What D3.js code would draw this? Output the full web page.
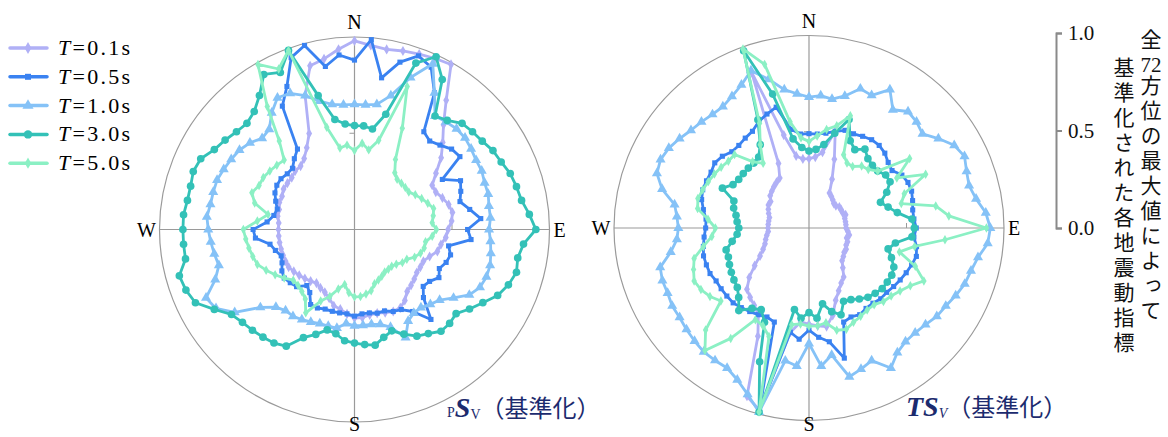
<!DOCTYPE html>
<html lang="ja">
<head>
<meta charset="UTF-8">
<title>pSv / TSv polar</title>
<script src="https://d3js.org/d3.v7.min.js"></script>
<style>
  body { margin: 0; background: #fff; position: relative; }
  .note {
    position: absolute;
    writing-mode: vertical-rl;
    font-family: 'Noto Sans CJK JP', sans-serif;
    font-size: 21px;
    line-height: 21px;
    letter-spacing: 4px;
    color: #111;
    white-space: nowrap;
  }
  .note .tcy { text-combine-upright: all; font-family: 'Liberation Serif', serif; }
</style>
</head>
<body>
<script>
// directions (deg, clockwise from N)
var angles = [0,5,10,15,20,25,30,35,40,45,50,55,
              60,65,70,75,80,85,90,95,100,105,110,115,
              120,125,130,135,140,145,150,155,160,165,170,175,
              180,185,190,195,200,205,210,215,220,225,230,235,
              240,245,250,255,260,265,270,275,280,285,290,295,
              300,305,310,315,320,325,330,335,340,345,350,355];

var periods = ["0.1", "0.5", "1.0", "3.0", "5.0"];
var radialTicks = [0, 0.5, 1.0];
var compass = ["N", "E", "S", "W"];
var noteRight = ["全", "72", "方位の最大値によって"];
var noteLeft = ["基準化された各地震動指標"];

// pSv (normalized)
var psv01 = [0.98,0.96,0.95,0.96,0.97,0.98,0.99,0.82,0.71,0.64,0.58,0.51,
             0.46,0.46,0.48,0.50,0.51,0.50,0.48,0.47,0.45,0.44,0.41,0.39,
             0.39,0.39,0.40,0.41,0.42,0.45,0.47,0.47,0.46,0.45,0.45,0.46,
             0.46,0.44,0.42,0.41,0.38,0.36,0.35,0.34,0.35,0.36,0.37,0.38,
             0.39,0.39,0.39,0.39,0.39,0.39,0.39,0.39,0.40,0.40,0.41,0.41,
             0.42,0.42,0.42,0.43,0.43,0.45,0.49,0.55,0.74,0.88,0.90,0.94];
var psv05 = [0.88,0.99,0.80,0.90,0.96,0.93,0.82,0.62,0.60,0.62,0.65,0.66,
             0.52,0.60,0.58,0.56,0.60,0.65,0.58,0.60,0.49,0.51,0.50,0.48,
             0.50,0.47,0.46,0.50,0.61,0.52,0.48,0.47,0.45,0.45,0.44,0.44,
             0.45,0.44,0.44,0.44,0.44,0.45,0.45,0.40,0.38,0.42,0.43,0.44,
             0.43,0.41,0.40,0.42,0.44,0.51,0.52,0.45,0.42,0.41,0.43,0.45,
             0.46,0.46,0.45,0.45,0.48,0.51,0.74,0.82,0.95,0.99,0.86,0.91];
var psv10 = [0.65,0.65,0.66,0.72,0.84,0.95,0.82,0.72,0.73,0.74,0.74,0.73,
             0.72,0.72,0.71,0.71,0.70,0.70,0.69,0.70,0.71,0.72,0.72,0.71,
             0.68,0.62,0.57,0.55,0.53,0.53,0.55,0.62,0.54,0.51,0.50,0.50,
             0.50,0.49,0.52,0.52,0.52,0.53,0.54,0.55,0.55,0.57,0.63,0.75,
             0.82,0.84,0.76,0.72,0.73,0.74,0.75,0.76,0.75,0.75,0.75,0.74,
             0.73,0.72,0.70,0.67,0.68,0.74,0.79,0.78,0.74,0.69,0.66,0.65];
var psv30 = [0.54,0.54,0.53,0.62,0.92,0.99,0.90,0.72,0.74,0.78,0.79,0.80,
             0.82,0.83,0.85,0.86,0.87,0.90,0.93,0.87,0.85,0.86,0.84,0.81,
             0.76,0.72,0.68,0.69,0.69,0.66,0.64,0.60,0.56,0.58,0.61,0.60,
             0.59,0.58,0.55,0.54,0.58,0.62,0.70,0.72,0.73,0.74,0.75,0.77,
             0.83,0.90,0.92,0.93,0.88,0.88,0.88,0.88,0.87,0.87,0.88,0.87,
             0.83,0.81,0.79,0.78,0.80,0.85,0.93,0.90,0.99,0.72,0.58,0.55];
var psv50 = [0.41,0.45,0.42,0.48,0.79,0.58,0.42,0.36,0.34,0.34,0.34,0.34,
             0.36,0.38,0.40,0.42,0.41,0.40,0.42,0.40,0.37,0.37,0.36,0.34,
             0.31,0.30,0.28,0.27,0.27,0.27,0.28,0.29,0.30,0.33,0.34,0.35,
             0.35,0.33,0.29,0.32,0.37,0.41,0.50,0.44,0.42,0.41,0.41,0.44,
             0.47,0.50,0.53,0.54,0.55,0.56,0.57,0.50,0.45,0.53,0.56,0.54,
             0.54,0.53,0.52,0.51,0.60,0.78,0.99,0.92,0.99,0.55,0.43,0.44];

// TSv (normalized)
var tsv01 = [0.36,0.37,0.40,0.52,0.38,0.28,0.21,0.20,0.19,0.18,0.18,0.19,
             0.19,0.19,0.20,0.19,0.19,0.19,0.19,0.20,0.21,0.20,0.21,0.21,
             0.22,0.22,0.23,0.24,0.27,0.31,0.33,0.36,0.40,0.47,0.52,0.51,
             0.50,0.49,0.55,0.98,0.93,0.62,0.52,0.49,0.47,0.45,0.40,0.34,
             0.29,0.26,0.24,0.23,0.22,0.21,0.21,0.21,0.21,0.21,0.22,0.23,
             0.24,0.24,0.26,0.27,0.28,0.29,0.30,0.37,0.86,0.50,0.38,0.36];
var tsv05 = [0.49,0.49,0.50,0.52,0.54,0.54,0.55,0.56,0.56,0.55,0.53,0.52,
             0.55,0.56,0.56,0.55,0.54,0.54,0.55,0.54,0.56,0.57,0.56,0.55,
             0.54,0.53,0.52,0.52,0.51,0.51,0.52,0.51,0.52,0.70,0.60,0.57,
             0.53,0.58,0.55,0.98,0.52,0.51,0.52,0.53,0.54,0.55,0.55,0.55,
             0.55,0.56,0.56,0.56,0.55,0.54,0.53,0.53,0.55,0.57,0.58,0.58,
             0.58,0.59,0.58,0.56,0.56,0.57,0.58,0.61,0.63,0.65,0.52,0.49];
var tsv10 = [0.68,0.69,0.68,0.71,0.77,0.76,0.83,0.75,0.79,0.78,0.76,0.81,
             0.86,0.88,0.86,0.85,0.87,0.91,0.93,0.92,0.88,0.86,0.85,0.83,
             0.81,0.80,0.78,0.77,0.77,0.79,0.84,0.76,0.78,0.80,0.67,0.72,
             0.60,0.72,0.70,0.99,0.92,0.87,0.84,0.84,0.84,0.83,0.82,0.81,
             0.81,0.80,0.80,0.79,0.72,0.68,0.67,0.68,0.70,0.78,0.83,0.84,
             0.83,0.81,0.79,0.78,0.77,0.77,0.79,0.82,0.87,0.80,0.73,0.70];
var tsv30 = [0.40,0.41,0.44,0.51,0.60,0.50,0.47,0.50,0.47,0.46,0.46,0.48,
             0.48,0.44,0.39,0.42,0.46,0.53,0.54,0.53,0.45,0.42,0.45,0.48,
             0.49,0.49,0.49,0.48,0.47,0.45,0.43,0.42,0.48,0.45,0.40,0.47,
             0.44,0.47,0.43,0.99,0.74,0.54,0.49,0.51,0.56,0.51,0.48,0.47,
             0.46,0.45,0.44,0.44,0.40,0.37,0.36,0.37,0.38,0.40,0.41,0.49,
             0.45,0.44,0.44,0.44,0.44,0.45,0.50,0.62,0.98,0.72,0.47,0.42];
var tsv50 = [0.45,0.48,0.52,0.55,0.62,0.42,0.39,0.39,0.42,0.43,0.46,0.63,
             0.52,0.66,0.52,0.49,0.66,0.72,0.91,0.70,0.55,0.48,0.58,0.65,
             0.60,0.57,0.55,0.54,0.52,0.52,0.53,0.54,0.56,0.55,0.50,0.51,
             0.51,0.50,0.51,0.99,0.60,0.56,0.55,0.70,0.83,0.75,0.59,0.62,
             0.64,0.65,0.63,0.61,0.55,0.50,0.48,0.52,0.58,0.59,0.58,0.57,
             0.56,0.55,0.54,0.54,0.45,0.41,0.50,0.60,0.99,0.88,0.56,0.47];

var colors = ["#b0b0f6", "#3a82f1", "#85c2f7", "#33c1b7", "#8bf0c4"];
var symbols = [d3.symbolDiamond, d3.symbolSquare, d3.symbolTriangle, d3.symbolCircle, d3.symbolDiamond];
var symSizes = [30, 26, 44, 46, 26];

var width = 1168, height = 437;
var RX = 195, RY = 192.5;
var serif = "'Liberation Serif', 'DejaVu Serif', serif";
var cjk = "'Noto Sans CJK JP', sans-serif";
var navy = "#1c2b6e";

var svg = d3.select("body").append("svg")
    .attr("width", width)
    .attr("height", height)
    .style("display", "block");

var rX = d3.scaleLinear().domain([0, 1]).range([0, RX]);
var rY = d3.scaleLinear().domain([0, 1]).range([0, RY]);
var theta = d3.scaleLinear().domain([0, 360]).range([0, 2 * Math.PI]);

function drawPolar(cx, cy, sets) {
    var g = svg.append("g").attr("transform", "translate(" + cx + "," + cy + ")");

    g.append("ellipse").attr("rx", RX).attr("ry", RY)
        .attr("fill", "none").attr("stroke", "#9a9a9a").attr("stroke-width", 1.2);
    g.append("line").attr("x1", -RX).attr("x2", RX).attr("y1", 0).attr("y2", 0)
        .attr("stroke", "#9a9a9a").attr("stroke-width", 1.2);
    g.append("line").attr("x1", 0).attr("x2", 0).attr("y1", -RY).attr("y2", RY)
        .attr("stroke", "#9a9a9a").attr("stroke-width", 1.2);
    // small ticks at 0.5
    g.append("line").attr("x1", -5).attr("x2", 0).attr("y1", -rY(0.5)).attr("y2", -rY(0.5))
        .attr("stroke", "#9a9a9a");
    g.append("line").attr("x1", rX(0.5)).attr("x2", rX(0.5)).attr("y1", -5).attr("y2", 0)
        .attr("stroke", "#9a9a9a");

    var line = d3.line().curve(d3.curveLinearClosed);

    sets.forEach(function(vals, i) {
        var pts = angles.map(function(a, j) {
            var t = theta(a);
            return [rX(vals[j]) * Math.sin(t), -rY(vals[j]) * Math.cos(t)];
        });
        var s = g.append("g");
        s.append("path").datum(pts).attr("d", line)
            .attr("fill", "none").attr("stroke", colors[i])
            .attr("stroke-width", 2.8).attr("stroke-linejoin", "round");
        s.selectAll("path.m").data(pts).enter().append("path")
            .attr("class", "m")
            .attr("transform", function(d) { return "translate(" + d[0] + "," + d[1] + ")"; })
            .attr("d", d3.symbol().type(symbols[i]).size(symSizes[i]))
            .attr("fill", colors[i]);
    });

    // compass labels
    var lab = [[0, cy - RY - 8], [RX + 10, cy + 7], [0, 431], [-RX - 13, cy + 7]];
    compass.forEach(function(c, k) {
        svg.append("text")
            .attr("x", cx + lab[k][0]).attr("y", lab[k][1])
            .attr("text-anchor", "middle")
            .style("font-family", serif).style("font-size", "20px")
            .text(c);
    });
}

drawPolar(354.5, 229.5, [psv01, psv05, psv10, psv30, psv50]);
drawPolar(809, 228, [tsv01, tsv05, tsv10, tsv30, tsv50]);

// legend
var legend = svg.append("g");
periods.forEach(function(p, i) {
    var y = 48 + i * 28.8;
    legend.append("line").attr("x1", 10).attr("x2", 47).attr("y1", y).attr("y2", y)
        .attr("stroke", colors[i]).attr("stroke-width", 3.5).attr("stroke-linecap", "round");
    legend.append("path")
        .attr("transform", "translate(28," + y + ")")
        .attr("d", d3.symbol().type(symbols[i]).size(symSizes[i] + 10))
        .attr("fill", colors[i]);
    var t = legend.append("text").attr("x", 58).attr("y", y + 7)
        .style("font-family", serif).style("font-size", "22px")
        .attr("textLength", 72).attr("lengthAdjust", "spacing");
    t.append("tspan").style("font-style", "italic").text("T");
    t.append("tspan").text("=" + p + "s");
});

// titles
function title(x, y, parts) {
    var t = svg.append("text").attr("x", x).attr("y", y).attr("fill", navy);
    parts.forEach(function(p) {
        var ts = t.append("tspan").text(p.s)
            .style("font-family", p.cjk ? cjk : serif)
            .style("font-size", p.size + "px");
        if (p.italic) ts.style("font-style", "italic");
        if (p.bold) ts.style("font-weight", "bold");
        if (p.dy) ts.attr("dy", p.dy);
    });
}
title(447, 417, [
    {s: "P", size: 14},
    {s: "S", size: 28, italic: true, bold: true},
    {s: "V", size: 14, dy: 2},
    {s: "（基準化）", size: 24, cjk: true, dy: -2}
]);
title(906, 416, [
    {s: "TS", size: 28, italic: true, bold: true},
    {s: "V", size: 14, italic: true, dy: 2},
    {s: "（基準化）", size: 24, cjk: true, dy: -2}
]);

// radial scale
var scaleY = d3.scaleLinear().domain([0, 1]).range([228, 33]);
var ax = svg.append("g").attr("transform", "translate(1056,0)")
    .call(d3.axisRight(scaleY).tickValues(radialTicks).tickSize(6).tickPadding(6)
        .tickFormat(d3.format(".1f")));
ax.selectAll("path, line").attr("stroke", "#8a8a8a").attr("stroke-width", 2);
ax.selectAll("text").style("font-family", serif).style("font-size", "21px").attr("fill", "#111");

// vertical note (two columns)
var right = d3.select("body").append("div").attr("class", "note")
    .style("left", "1140px").style("top", "29px");
right.append("span").text(noteRight[0]);
right.append("span").attr("class", "tcy").text(noteRight[1]);
right.append("span").text(noteRight[2]);

d3.select("body").append("div").attr("class", "note")
    .style("left", "1113px").style("top", "57px")
    .text(noteLeft[0]);
</script>
</body>
</html>
